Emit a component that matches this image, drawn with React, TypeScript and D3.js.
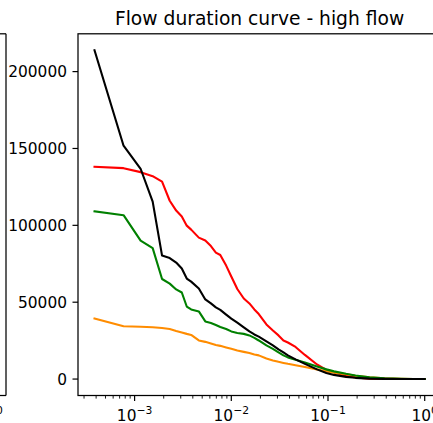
import React from "react";
import * as d3 from "d3";

const exceedance = [0.000385, 0.000769, 0.001154, 0.001538, 0.001923, 0.002308, 0.002692, 0.003077, 0.003462, 0.003846, 0.004615, 0.005385, 0.006154, 0.006923, 0.007692, 0.008846, 0.01, 0.011538, 0.013462, 0.015385, 0.017308, 0.019231, 0.023077, 0.026923, 0.030769, 0.034615, 0.038462, 0.046154, 0.057692, 0.076923, 0.096154, 0.115385, 0.153846, 0.192308, 0.269231, 0.384615, 0.576923, 0.769231, 0.999615];

const redFlow = [138100, 137200, 134600, 132000, 128400, 116000, 109600, 105700, 99800, 97200, 92000, 90100, 86500, 82300, 80700, 73800, 66700, 58600, 52400, 49200, 45300, 42300, 35500, 31600, 28400, 25100, 23800, 20900, 15700, 9500, 6000, 4400, 2100, 1000, 260, 60, 0, 0, 0];
const orangeFlow = [39400, 34400, 34000, 33700, 33200, 32600, 31300, 30300, 29400, 28700, 25100, 24200, 23200, 22200, 21600, 20600, 19700, 18600, 17700, 17000, 16000, 15400, 13400, 12100, 11200, 10500, 9900, 9000, 7900, 6300, 5000, 4200, 3100, 2100, 1100, 450, 130, 60, 0];
const greenFlow = [109100, 106600, 90100, 85200, 65100, 62100, 58300, 56300, 47200, 45300, 44000, 37500, 36500, 35200, 33900, 32600, 31000, 30000, 29400, 28400, 26800, 25100, 21900, 19600, 17300, 15400, 14100, 12500, 10800, 8200, 6300, 5000, 3400, 2300, 1100, 450, 130, 60, 0];
const blackFlow = [213900, 151800, 136800, 115400, 80300, 78700, 75800, 71900, 65400, 63400, 58900, 51800, 49200, 46600, 45000, 41900, 39300, 36700, 33600, 31000, 29000, 27600, 24500, 21900, 19300, 17300, 15400, 12800, 9900, 6300, 4000, 2700, 1400, 800, 300, 130, 60, 20, 0];

const seriesColors = ["#ff0000", "#ff8c00", "#008000", "#000000"];
const seriesList = [redFlow, orangeFlow, greenFlow, blackFlow];

const yTicks = [0, 50000, 100000, 150000, 200000];
const xTickExps = [-3, -2, -1, 0];
const title = "Flow duration curve - high flow";

const FONT = "DejaVu Sans, sans-serif";

export default function App() {
  const W = 433, H = 423;
  const left = 78, right = 441.2, top = 33.8, bottom = 395.5;

  const lo = Math.log10(d3.min(exceedance)!);
  const hi = Math.log10(d3.max(exceedance)!);
  const xpad = (hi - lo) * 0.05;
  const x = d3.scaleLog().domain([10 ** (lo - xpad), 10 ** (hi + xpad)]).range([left, right]);

  const allY = seriesList.flat();
  const ymin = d3.min(allY)!, ymax = d3.max(allY)!;
  const ypad = (ymax - ymin) * 0.05;
  const y = d3.scaleLinear().domain([ymin - ypad, ymax + ypad]).range([bottom, top]);

  const line = d3.line<[number, number]>().x(d => x(d[0])).y(d => y(d[1]));

  const minorTicks: number[] = [];
  for (let e = -4; e <= 0; e++) {
    for (let k = 2; k <= 9; k++) {
      const v = k * 10 ** e;
      const px = x(v);
      if (px >= left && px <= right) minorTicks.push(v);
    }
  }

  const majorLen = 5.5, minorLen = 3.1, pad = 5.5;
  const fs = 15.4;
  const labelY = bottom + majorLen + pad + fs * 0.95;

  const leftPanelRight = 6;
  const leftPanelTick = leftPanelRight - (x(1) - x(10 ** (lo - xpad))) ;

  return (
    <svg width={W} height={H} style={{ position: "absolute", left: 0, top: 0, background: "#fff" }} fontFamily={FONT}>
      <rect x={0} y={0} width={W} height={H} fill="#fff" />
      {/* partial left panel */}
      <g>
        <line x1={-10} x2={leftPanelRight} y1={top} y2={top} stroke="#000" strokeWidth={1.25} />
        <line x1={-10} x2={leftPanelRight} y1={bottom} y2={bottom} stroke="#000" strokeWidth={1.25} />
        <line x1={leftPanelRight} x2={leftPanelRight} y1={top} y2={bottom} stroke="#000" strokeWidth={1.25} />
        <text x={-10.5} y={labelY} fontSize={fs} textAnchor="middle" fill="#000">
          10<tspan dy={-7} fontSize={fs * 0.7}>0</tspan>
        </text>
      </g>

      <text x={(left + right) / 2} y={25} fontSize={18.7} textAnchor="middle" fill="#000">{title}</text>

      <g>
        {seriesList.map((s, i) => (
          <path key={i} d={line(exceedance.map((p, j) => [p, s[j]] as [number, number]))!} fill="none"
            stroke={seriesColors[i]} strokeWidth={2.1} strokeLinejoin="round" strokeLinecap="square" />
        ))}
      </g>

      {/* spines */}
      <rect x={left} y={top} width={right - left} height={bottom - top} fill="none" stroke="#000" strokeWidth={1.25} />

      {/* y ticks */}
      {yTicks.map(t => (
        <g key={t}>
          <line x1={left - majorLen} x2={left} y1={y(t)} y2={y(t)} stroke="#000" strokeWidth={1.2} />
          <text x={left - majorLen - pad} y={y(t)} dy="0.36em" fontSize={fs} textAnchor="end" fill="#000">{t}</text>
        </g>
      ))}

      {/* x ticks */}
      {xTickExps.map(e => (
        <g key={e}>
          <line x1={x(10 ** e)} x2={x(10 ** e)} y1={bottom} y2={bottom + majorLen} stroke="#000" strokeWidth={1.2} />
          <text x={x(10 ** e)} y={labelY} fontSize={fs} textAnchor="middle" fill="#000">
            10<tspan dy={-7} fontSize={fs * 0.7}>{e === 0 ? "0" : "\u2212" + Math.abs(e)}</tspan>
          </text>
        </g>
      ))}
      {minorTicks.map((v, i) => (
        <line key={i} x1={x(v)} x2={x(v)} y1={bottom} y2={bottom + minorLen} stroke="#000" strokeWidth={0.9} />
      ))}
    </svg>
  );
}
